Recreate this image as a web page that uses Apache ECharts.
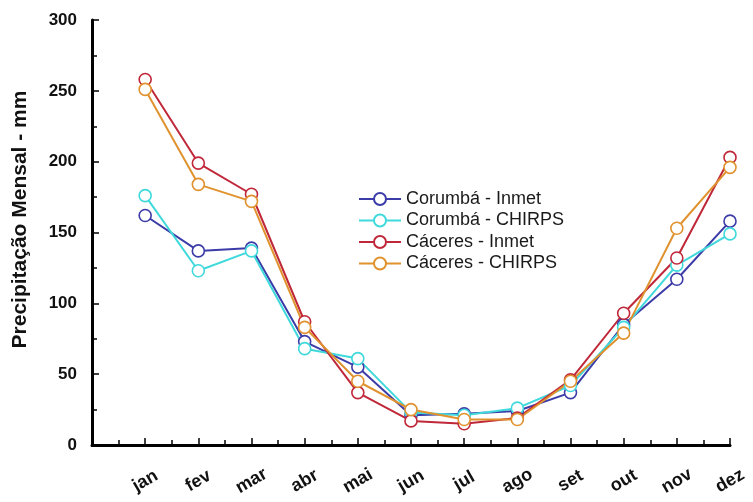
<!DOCTYPE html>
<html>
<head>
<meta charset="utf-8">
<script src="https://cdn.jsdelivr.net/npm/echarts@6/dist/echarts.min.js"></script>
<style>
  html, body { margin: 0; padding: 0; background: #fff; }
  #chart { width: 753px; height: 502px; }
</style>
</head>
<body>
<div id="chart"></div>
<script>
// Monthly precipitation (mm), Corumbá and Cáceres, station (Inmet) vs CHIRPS
const months = ['jan', 'fev', 'mar', 'abr', 'mai', 'jun', 'jul', 'ago', 'set', 'out', 'nov', 'dez'];
const corumbaInmet  = [162, 137, 139, 73, 55, 21, 22, 24, 37, 85, 117, 158];
const corumbaChirps = [176, 123, 137, 68, 61, 23, 21, 26, 42, 83, 127, 149];
const caceresInmet  = [258, 199, 177, 87, 37, 17, 15, 19, 46, 93, 132, 203];
const caceresChirps = [251, 184, 172, 83, 45, 25, 18, 18, 45, 79, 153, 196];
const yTicks = [0, 50, 100, 150, 200, 250, 300];

const seriesDefs = [
  { name: 'Corumbá - Inmet',  color: '#3c3ca8', values: corumbaInmet },
  { name: 'Corumbá - CHIRPS', color: '#3fd9dc', values: corumbaChirps },
  { name: 'Cáceres - Inmet',  color: '#c0283a', values: caceresInmet },
  { name: 'Cáceres - CHIRPS', color: '#e0922e', values: caceresChirps }
];

const font = "'Liberation Sans', Arial, sans-serif";

const chart = echarts.init(document.getElementById('chart'), null, { renderer: 'canvas' });

chart.setOption({
  backgroundColor: '#fff',
  animation: false,
  grid: { left: 92, right: 23, top: 20, bottom: 57, outerBoundsMode: 'none', containLabel: false },
  legend: {
    orient: 'vertical',
    left: 353,
    top: 185,
    itemWidth: 42,
    itemHeight: 15,
    itemGap: 3.5,
    textStyle: { fontFamily: font, fontSize: 18, color: '#1a1a1a', lineHeight: 18 },
    data: seriesDefs.map(s => s.name)
  },
  xAxis: {
    type: 'value',
    min: 0,
    max: months.length,
    interval: 1,
    axisLine: { show: true, lineStyle: { color: '#000', width: 3 } },
    axisTick: { show: true, inside: true, length: 7, lineStyle: { color: '#000', width: 1.5 } },
    minorTick: { show: true, splitNumber: 2, length: 5, lineStyle: { color: '#000', width: 1.5 } },
    splitLine: { show: false },
    axisLabel: {
      formatter: v => months[v - 1] || '',
      rotate: 30,
      align: 'center',
      verticalAlign: 'middle',
      margin: 36,
      fontFamily: font,
      fontSize: 18,
      fontWeight: 'bold',
      color: '#111'
    }
  },
  yAxis: {
    type: 'value',
    min: yTicks[0],
    max: yTicks[yTicks.length - 1],
    interval: 50,
    name: 'Precipitação Mensal - mm',
    nameLocation: 'middle',
    nameRotate: 90,
    nameGap: 61,
    nameTextStyle: { fontFamily: font, fontSize: 21, fontWeight: 'bold', color: '#111', padding: [0, 0, 0, 26] },
    axisLine: { show: true, lineStyle: { color: '#000', width: 3 } },
    axisTick: { show: true, inside: true, length: 7, lineStyle: { color: '#000', width: 1.5 } },
    minorTick: { show: true, splitNumber: 2, length: 5, lineStyle: { color: '#000', width: 1.5 } },
    splitLine: { show: false },
    axisLabel: {
      margin: 15,
      fontFamily: font,
      fontSize: 17,
      fontWeight: 'bold',
      color: '#111'
    }
  },
  series: seriesDefs.map(s => ({
    type: 'line',
    name: s.name,
    data: s.values.map((v, i) => [i + 1, v]),
    symbol: 'circle',
    symbolSize: 12,
    showAllSymbol: true,
    lineStyle: { color: s.color, width: 2 },
    itemStyle: { color: '#fff', borderColor: s.color, borderWidth: 1.6 },
    emphasis: { disabled: true }
  }))
});
</script>
</body>
</html>
